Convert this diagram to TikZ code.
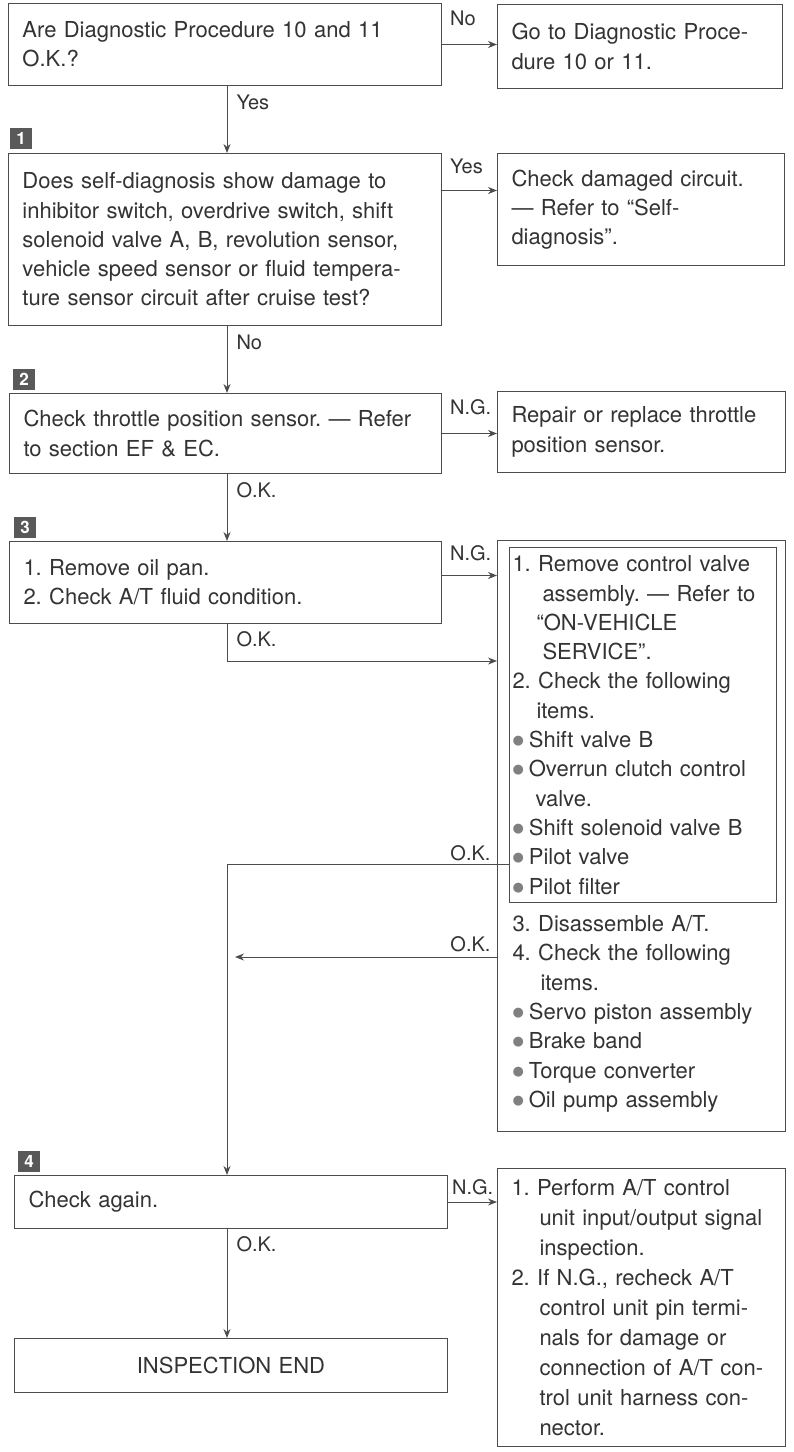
\documentclass[tikz,border=0pt]{standalone}
\usepackage{fontspec}
\setmainfont{TeX Gyre Heros}
\newfontfamily\symfont{DejaVu Sans}
\usetikzlibrary{arrows.meta}
\frenchspacing

\newcommand{\indt}[1][30pt]{\hspace*{#1}}
\newcommand{\dotm}{\raisebox{3pt}{\symfont\fontsize{13}{13}\selectfont\textcolor{black!50}{●}}\hspace{5pt}}

\begin{document}
\begin{tikzpicture}[x=1pt,y=-1pt,
    box/.style={draw=black!70, line width=1pt, anchor=north west, inner xsep=14pt,
      inner ysep=0pt, align=left, text=black!80, font=\fontsize{22}{29.3}\selectfont},
    badge/.style={fill=black!65, text=white, minimum width=22pt, minimum height=21pt,
      inner sep=0pt, font=\bfseries\fontsize{17}{17}\selectfont},
    lab/.style={text=black!80, inner sep=2pt, font=\fontsize{20}{20}\selectfont},
    link/.style={draw=black!70, line width=1pt},
    arr/.style={link, -{Stealth[length=9pt,width=7pt]}}]
    \useasboundingbox (0,0) rectangle (793,1452);

    % question boxes on the left
    \node[box, minimum width=433pt, text width=405pt, minimum height=82pt] (qa) at (8,3)
      {Are Diagnostic Procedure 10 and 11\\O.K.?};
    \node[box, minimum width=433pt, text width=405pt, minimum height=172pt] (q1) at (8,153)
      {Does self-diagnosis show damage to\\inhibitor switch, overdrive switch, shift\\solenoid valve A, B, revolution sensor,\\vehicle speed sensor or fluid tempera-\\ture sensor circuit after cruise test?};
    \node[box, minimum width=432pt, text width=404pt, minimum height=80pt] (q2) at (9,393)
      {Check throttle position sensor. --- Refer\\to section EF \& EC.};
    \node[box, minimum width=432pt, text width=404pt, minimum height=82pt] (q3) at (9,541)
      {1. Remove oil pan.\\2. Check A/T fluid condition.};
    \node[box, minimum width=433pt, text width=405pt, minimum height=53pt] (q4) at (14,1175)
      {Check again.};
    \node[box, minimum width=433pt, text width=405pt, minimum height=54pt, align=center] (fin) at (14,1338)
      {INSPECTION END};

    % step badges
    \node[badge] (n1) at (21,138) {1};
    \node[badge] (n2) at (24,379) {2};
    \node[badge] (n3) at (25,527) {3};
    \node[badge] (n4) at (29,1161) {4};

    % action boxes on the right
    \node[box, minimum width=285pt, text width=257pt, minimum height=84pt] (goto) at (497,4)
      {Go to Diagnostic Proce-\\dure 10 or 11.};
    \node[box, minimum width=287pt, text width=259pt, minimum height=112pt] (chk) at (497,153)
      {Check damaged circuit.\\--- Refer to ``Self-\\diagnosis''.};
    \node[box, minimum width=288pt, text width=260pt, minimum height=81pt] (rep) at (497,391)
      {Repair or replace throttle\\position sensor.};
    \node[box, minimum width=288pt, minimum height=591pt] (outer) at (497,540) {};
    \node[box, inner xsep=3pt, minimum width=267pt, text width=261pt, minimum height=355pt] (inner) at (509,547)
      {1. Remove control valve\\\indt assembly. --- Refer to\\\indt[24pt]``ON-VEHICLE\\\indt SERVICE''.\\2. Check the following\\\indt[24pt]items.\\\dotm Shift valve B\\\dotm Overrun clutch control\\\indt[23pt]valve.\\\dotm Shift solenoid valve B\\\dotm Pilot valve\\\dotm Pilot filter};
    \node[box, draw=none, inner xsep=3pt, text width=265pt] (disasm) at (509,915)
      {3. Disassemble A/T.\\4. Check the following\\\indt[28pt]items.\\\dotm Servo piston assembly\\\dotm Brake band\\\dotm Torque converter\\\dotm Oil pump assembly};
    \node[box, minimum width=288pt, text width=260pt, minimum height=278pt, font=\fontsize{22}{30}\selectfont] (perf) at (497,1168)
      {1. Perform A/T control\\\indt[28pt]unit input/output signal\\\indt[28pt]inspection.\\2. If N.G., recheck A/T\\\indt[28pt]control unit pin termi-\\\indt[28pt]nals for damage or\\\indt[28pt]connection of A/T con-\\\indt[28pt]trol unit harness con-\\\indt[28pt]nector.};

    % helper points
    \coordinate (col) at (227,0);
    \coordinate (y1) at ([yshift=49pt]q1.east);
    \coordinate (y3) at ([yshift=7pt]q3.east);
    \coordinate (okc) at (0,661);
    \coordinate (oka) at (0,864);
    \coordinate (okb) at (235,957);

    % main line
    \draw[arr] (qa.south -| col) -- node[lab, pos=0, anchor=north west, xshift=7pt, yshift=-6pt] (l1) {Yes} (q1.north -| col);
    \draw[arr] (q1.south -| col) -- node[lab, pos=0, anchor=north west, xshift=7pt, yshift=-6pt] (l2) {No} (q2.north -| col);
    \draw[arr] (q2.south -| col) -- node[lab, pos=0, anchor=north west, xshift=7pt, yshift=-6pt] (l3) {O.K.} (q3.north -| col);
    \draw[arr] (q3.south -| col) |- node[lab, pos=0, anchor=north west, xshift=7pt, yshift=-5pt] (l4) {O.K.} (outer.west |- okc);
    \draw[arr] (inner.west |- oka) -| node[lab, pos=0, anchor=south east, xshift=-16pt, yshift=1pt] (l5) {O.K.} (q4.north -| col);
    \draw[arr] (outer.west |- okb) -- node[lab, pos=0, anchor=south east, xshift=-4pt, yshift=3pt] (l6) {O.K.} (okb);
    \draw[arr] (q4.south -| col) -- node[lab, pos=0, anchor=north west, xshift=7pt, yshift=-5pt] (l7) {O.K.} (fin.north -| col);

    % side branches
    \draw[arr] (qa.east) -- (qa.east -| goto.west);
    \node[lab, anchor=north west] (b1) at ([xshift=6pt,yshift=-6pt]qa.north east) {No};
    \draw[arr] (y1) -- (y1 -| chk.west);
    \node[lab, anchor=north west] (b2) at ([xshift=6pt,yshift=-4pt]q1.north east) {Yes};
    \draw[arr] (q2.east) -- (q2.east -| rep.west);
    \node[lab, anchor=north west] (b3) at ([xshift=6pt,yshift=-4pt]q2.north east) {N.G.};
    \draw[arr] (y3) -- (y3 -| outer.west);
    \node[lab, anchor=north west] (b4) at ([xshift=6pt,yshift=-2pt]q3.north east) {N.G.};
    \draw[arr] (q4.east) -- (q4.east -| perf.west);
    \node[lab, anchor=north west] (b5) at ([xshift=2pt,yshift=-2pt]q4.north east) {N.G.};
\end{tikzpicture}
\end{document}
